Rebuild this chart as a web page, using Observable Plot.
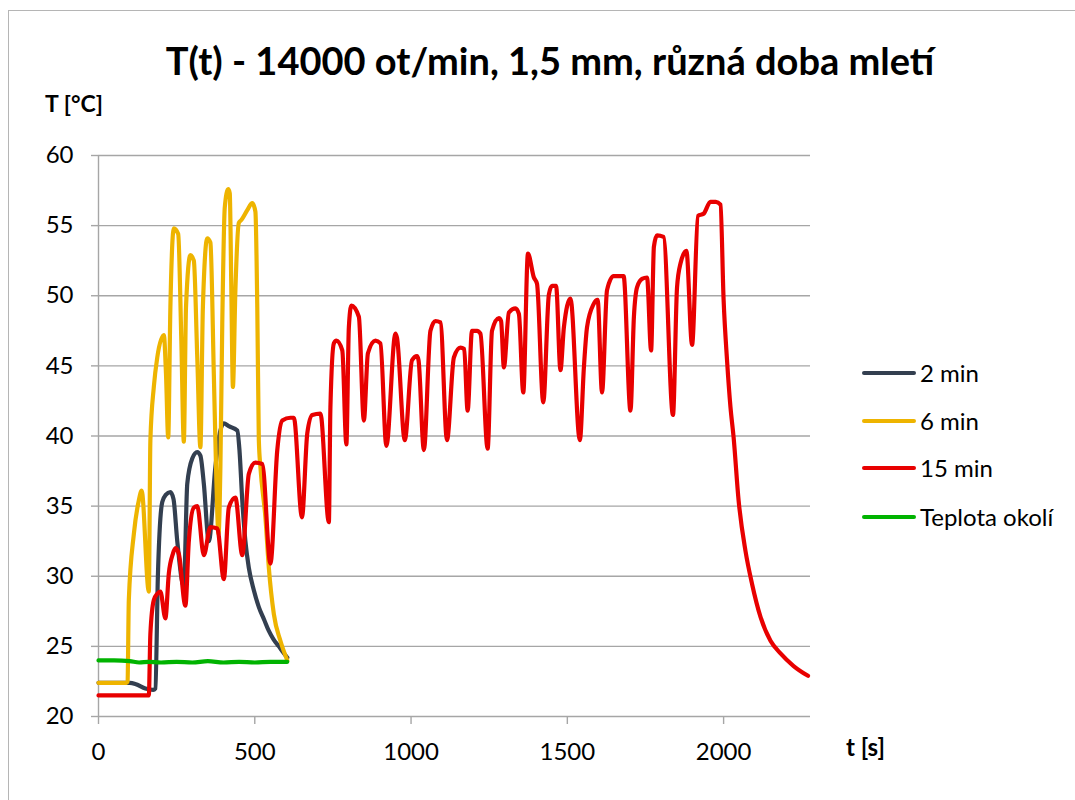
<!DOCTYPE html>
<html>
<head>
<meta charset="utf-8">
<script src="https://cdn.jsdelivr.net/npm/d3@7"></script>
<script src="https://cdn.jsdelivr.net/npm/@observablehq/plot@0.6"></script>
<style>
  html, body { margin: 0; padding: 0; background: #fff; overflow: hidden; }
  #wrap { position: relative; width: 1075px; height: 800px; font-family: Lato, "Open Sans", sans-serif; color: #000; }
  #frame { position: absolute; left: 8px; top: 10px; width: 1200px; height: 900px; border-left: 1.5px solid #b5b5b5; border-top: 1.5px solid #b5b5b5; }
  #title { position: absolute; left: 0; width: 1100px; top: 37px; text-align: center; font-size: 38px; font-weight: bold; line-height: 46px; }
  #ylab { position: absolute; left: 45px; top: 88px; font-size: 23px; font-weight: bold; line-height: 30px; }
  #xlab { position: absolute; left: 846px; top: 732px; font-size: 24px; font-weight: bold; line-height: 30px; }
  #chart { position: absolute; left: 0; top: 80px; }
  .leg { position: absolute; left: 862px; font-size: 24px; line-height: 30px; height: 30px; }
  .leg span.sw { position: absolute; left: 0; top: 13px; width: 54px; height: 4px; border-radius: 2px; }
  .leg span.tx { position: absolute; left: 58px; top: 0; white-space: nowrap; }
</style>
</head>
<body>
<div id="wrap">
  <div id="frame"></div>
  <div id="title">T(t) - 14000 ot/min, 1,5 mm, různá doba mletí</div>
  <div id="ylab">T [°C]</div>
  <div id="xlab">t [s]</div>
  <div id="chart"></div>
  <div id="legend"></div>
</div>
<script>
// ---- data ----
const seriesNames = ["2 min", "6 min", "15 min", "Teplota okolí"];
const seriesColors = ["#333f50", "#eeb400", "#e80000", "#00b300"];

const t2 = [0, 50, 100, 120, 150, 175, 182, 190, 204, 215, 230, 240, 252, 273, 284, 300, 316, 326, 337, 353, 374, 390, 401, 417, 444, 451, 460, 470, 481, 497, 513, 530, 545, 560, 577, 590, 604];
const T2 = [22.4, 22.4, 22.4, 22.3, 22.0, 21.9, 22.0, 30.0, 35.3, 35.8, 36.0, 35.5, 32.5, 29.3, 36.6, 38.4, 38.85, 38.6, 36.6, 32.5, 37.8, 40.4, 40.9, 40.7, 40.4, 39.0, 35.4, 32.5, 30.6, 29.0, 27.8, 26.9, 26.1, 25.5, 25.0, 24.6, 24.2];

const t6 = [0, 50, 90, 93, 97, 113, 129, 138, 161, 166, 177, 188, 209, 216, 223, 230, 241, 255, 265, 273, 280, 294, 305, 316, 326, 334, 348, 358, 369, 376, 384, 390, 396, 404, 415, 420, 425, 430, 438, 449, 457, 476, 492, 502, 508, 513, 518, 534, 545, 561, 582, 604];
const T6 = [22.4, 22.4, 22.4, 22.5, 28.3, 33.0, 35.4, 36.1, 28.9, 39.7, 43.5, 45.6, 47.2, 44.4, 39.9, 49.2, 54.8, 54.4, 46.8, 39.6, 49.2, 52.9, 52.5, 45.6, 39.2, 49.2, 54.1, 53.8, 44.4, 37.8, 33.0, 37.8, 48.0, 56.3, 57.6, 57.3, 50.4, 43.5, 50.4, 55.2, 55.4, 56.1, 56.6, 56.0, 49.2, 39.7, 37.8, 34.2, 30.6, 27.3, 25.4, 24.0];

const t15 = [0, 80, 161, 166, 177, 188, 198, 214, 225, 238, 246, 257, 278, 289, 305, 316, 337, 358, 380, 401, 417, 438, 460, 481, 502, 524, 550, 572, 588, 614, 625, 651, 668, 684, 710, 737, 742, 753, 761, 780, 793, 801, 809, 833, 849, 862, 886, 902, 921, 950, 955, 980, 1003, 1019, 1024, 1041, 1062, 1078, 1094, 1115, 1137, 1158, 1170, 1181, 1195, 1211, 1222, 1245, 1259, 1281, 1288, 1297, 1313, 1334, 1345, 1359, 1374, 1393, 1403, 1423, 1441, 1451, 1464, 1478, 1489, 1510, 1540, 1553, 1563, 1584, 1597, 1611, 1627, 1648, 1680, 1702, 1713, 1723, 1739, 1755, 1768, 1777, 1787, 1808, 1838, 1851, 1862, 1881, 1899, 1918, 1936, 1958, 1975, 1990, 2000, 2011, 2022, 2032, 2048, 2070, 2091, 2118, 2150, 2182, 2224, 2270];
const T15 = [21.5, 21.5, 21.5, 25.9, 28.3, 28.75, 28.9, 27.0, 30.2, 31.6, 32.0, 31.6, 27.9, 32.5, 34.9, 35.0, 31.5, 33.5, 33.4, 29.8, 34.9, 35.6, 31.5, 37.3, 38.1, 38.0, 30.9, 39.0, 41.1, 41.3, 41.3, 34.2, 40.2, 41.5, 41.6, 33.85, 42.05, 46.6, 46.8, 46.1, 39.4, 47.75, 49.3, 48.5, 41.1, 45.9, 46.8, 46.6, 39.3, 47.3, 47.0, 39.7, 45.4, 45.7, 45.4, 39.0, 47.5, 48.2, 48.1, 39.7, 45.6, 46.3, 46.2, 41.8, 47.5, 47.5, 47.3, 39.1, 47.5, 48.4, 48.2, 44.9, 48.8, 49.1, 48.7, 43.1, 53.0, 51.3, 50.85, 42.4, 50.1, 50.7, 50.7, 44.7, 47.75, 49.8, 39.7, 44.9, 47.75, 49.4, 49.7, 43.1, 50.4, 51.4, 51.4, 41.8, 48.5, 50.6, 51.2, 51.3, 46.1, 53.5, 54.3, 54.2, 41.5, 50.6, 52.3, 53.2, 46.5, 55.7, 55.85, 56.7, 56.7, 56.5, 49.7, 45.4, 42.05, 39.9, 35.4, 31.8, 29.45, 27.1, 25.4, 24.5, 23.6, 22.9];

const tAmb = [0, 50, 100, 130, 160, 200, 250, 300, 350, 400, 450, 500, 550, 604];
const TAmb = [24.0, 24.0, 23.95, 23.85, 23.9, 23.85, 23.9, 23.85, 23.95, 23.85, 23.9, 23.85, 23.9, 23.9];

const xTicks = [0, 500, 1000, 1500, 2000];
const yTicks = [20, 25, 30, 35, 40, 45, 50, 55, 60];

// ---- build tables ----
const allT = [t2, t6, t15, tAmb];
const allV = [T2, T6, T15, TAmb];
const tables = allT.map((ts, i) => ts.map((t, j) => ({series: seriesNames[i], t, T: allV[i][j]})));

const lineMarks = tables.map((rows, i) =>
  Plot.line(rows, {x: "t", y: "T", stroke: seriesColors[i], strokeWidth: 4.2, strokeLinejoin: "round", strokeLinecap: "round", curve: "monotone-x"})
);

const chart = Plot.plot({
  width: 1075,
  height: 720,
  marginLeft: 98,
  marginRight: 265,
  marginTop: 75,
  marginBottom: 84,
  style: {fontFamily: "Lato, 'Open Sans', sans-serif", fontSize: "24px", color: "#000", background: "transparent", overflow: "visible"},
  x: {domain: [0, 2278]},
  y: {domain: [20, 60]},
  marks: [
    Plot.ruleY(yTicks, {stroke: "#a6a6a6", strokeWidth: 1.4}),
    Plot.ruleX([0], {stroke: "#a6a6a6", strokeWidth: 1.4}),
    Plot.axisY(yTicks, {tickSize: 7, tickPadding: 18, stroke: "#a6a6a6", strokeOpacity: 1, strokeWidth: 1.4, label: null, fontSize: 24, tickFormat: d3.format("d")}),
    Plot.axisX(xTicks, {tickSize: 8, tickPadding: 18, stroke: "#a6a6a6", strokeOpacity: 1, strokeWidth: 1.4, label: null, fontSize: 24, tickFormat: d3.format("d")}),
    ...lineMarks
  ]
});
document.getElementById("chart").appendChild(chart);

// ---- legend ----
const legend = document.getElementById("legend");
const legTops = [358, 406, 453, 502];
seriesNames.forEach((name, i) => {
  const row = document.createElement("div");
  row.className = "leg";
  row.style.top = legTops[i] + "px";
  const sw = document.createElement("span");
  sw.className = "sw";
  sw.style.background = seriesColors[i];
  const tx = document.createElement("span");
  tx.className = "tx";
  tx.textContent = name;
  row.appendChild(sw);
  row.appendChild(tx);
  legend.appendChild(row);
});
</script>
</body>
</html>
